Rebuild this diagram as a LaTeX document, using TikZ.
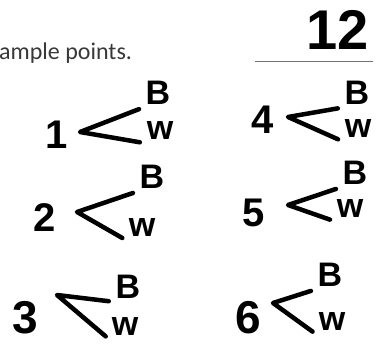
\documentclass[tikz,border=0pt]{standalone}
\usepackage{fontspec}
\setmainfont{Liberation Sans}
\newfontfamily\notefont{Carlito}
\usetikzlibrary{positioning}

\begin{document}
\begin{tikzpicture}[x=1pt, y=-1pt,
  hand/.style={font=\fontsize{40}{40}\selectfont\bfseries, inner sep=1pt},
  leaf/.style={hand, font=\fontsize{34}{34}\selectfont\bfseries, outer sep=2pt},
  branch/.style={line width=4.5pt, line cap=round, line join=round, shorten <=4pt, shorten >=4pt}]
  \useasboundingbox (0,0) rectangle (378,345);
  % caption text and the answer
  \node[font=\notefont\fontsize{24}{24}\selectfont, text=black!78, anchor=base west, inner sep=0pt] (caption) at (-1,60) {ample points.};
  \node[font=\fontsize{56}{56}\selectfont\bfseries, inner sep=0pt] (total) at (338,30) {12};
  \coordinate (ruleL) at (255,62); \coordinate (ruleR) at (373,62);
  \draw[black!55, line width=1pt] (ruleL) -- (ruleR);
  % left column
  \node[hand] (n1) at (57,135) {1};
  \node[leaf] (b1) at (158,93) {B}; \node[leaf] (w1) at (160,131) {w};
  \coordinate (a1) at (80,132);
  \node[hand] (n2) at (45,218) {2};
  \node[leaf] (b2) at (152,177) {B}; \node[leaf] (w2) at (142,228) {w};
  \coordinate (a2) at (77,212);
  \node[hand, font=\fontsize{46}{46}\selectfont\bfseries] (n3) at (25,318) {3};
  \node[leaf] (b3) at (128,287) {B}; \node[leaf] (w3) at (125,327) {w};
  \coordinate (a3) at (57,295);
  % right column
  \node[hand] (n4) at (263,120) {4};
  \node[leaf] (b4) at (357,93) {B}; \node[leaf] (w4) at (358,129) {w};
  \coordinate (a4) at (288,117);
  \node[hand] (n5) at (254,213) {5};
  \node[leaf] (b5) at (355,173) {B}; \node[leaf] (w5) at (350,209) {w};
  \coordinate (a5) at (288,205);
  \node[hand, font=\fontsize{46}{46}\selectfont\bfseries] (n6) at (248,318) {6};
  \node[leaf] (b6) at (330,275) {B}; \node[leaf] (w6) at (332,322) {w};
  \coordinate (a6) at (273,303);
  \foreach \i in {1,...,6}
    \draw[branch] (b\i.south west) -- (a\i) -- (w\i.south west);
\end{tikzpicture}
\end{document}
